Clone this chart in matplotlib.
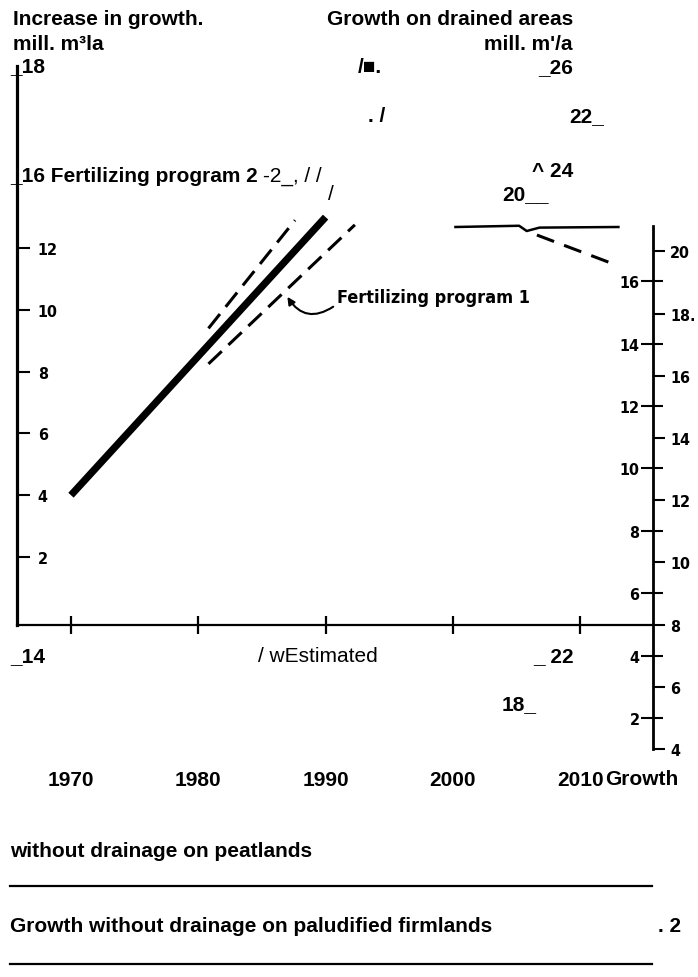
import matplotlib
matplotlib.use("Agg")
import matplotlib.pyplot as plt
from matplotlib.lines import Line2D

W, H = 698, 978

# growth series (left scale, mill. m3/a)
years_main = [1970, 1980, 1990]
growth_main = [4.0, 8.5, 13.0]
years_prog2 = [1980.8, 1987.6]
growth_prog2 = [9.4, 12.9]
years_prog1 = [1980.8, 1992.3]
growth_prog1 = [8.25, 12.75]
years_drained = [2000.2, 2005.2, 2005.8, 2006.8, 2013.0]
growth_drained = [12.68, 12.72, 12.55, 12.66, 12.68]
years_est = [2006.6, 2012.5]
growth_est = [12.42, 11.5]

year_ticks = [1970, 1980, 1990, 2000, 2010]
year_labels = ['1970', '1980', '1990', '2000', '2010']
left_ticks = [2, 4, 6, 8, 10, 12]
inner_ticks = [2, 4, 6, 8, 10, 12, 14, 16]
outer_ticks = [4, 6, 8, 10, 12, 14, 16, 18, 20]
outer_labels = ['4', '6', '8', '10', '12', '14', '16', '18.', '20']

SANS = ['Liberation Sans', 'DejaVu Sans']
SCAN = dict(family=['DejaVu Sans'], fontweight='bold', fontstretch='condensed')


def fx(px):
    return px / W


def fy(py):
    return 1 - py / H


fig = plt.figure(figsize=(W / 100, H / 100), dpi=100)

# main panel: years vs increase in growth
ax = fig.add_axes([fx(17), fy(626), fx(652) - fx(17), fy(67) - fy(626)])
ax.set_xlim(1965.76, 2015.64)
ax.set_ylim(-0.2, 17.89)
ax.patch.set_visible(False)
for side in ['top', 'right']:
    ax.spines[side].set_visible(False)
ax.spines['left'].set_linewidth(2.3)
ax.spines['bottom'].set_linewidth(1.6)

ax.plot(years_main, growth_main, color='black', lw=5.2, solid_capstyle='butt')
ax.plot(years_prog2, growth_prog2, color='black', lw=2.2, dashes=(6, 3), dash_capstyle='butt')
ax.plot(years_prog1, growth_prog1, color='black', lw=2.2, dashes=(6, 3), dash_capstyle='butt')
ax.plot(years_drained, growth_drained, color='black', lw=1.8)
ax.plot(years_est, growth_est, color='black', lw=2.2, dashes=(6, 3.5), dash_capstyle='butt')

ax.annotate('', xy=(1987.0, 10.42), xytext=(1990.6, 10.1),
            arrowprops=dict(arrowstyle='-|>', color='black', lw=1.5,
                            connectionstyle='arc3,rad=-0.5',
                            shrinkA=0, shrinkB=0, mutation_scale=11))
ax.text(1990.9, 10.42, 'Fertilizing program 1', fontsize=13, va='center', ha='left', **SCAN)

ax.set_yticks(left_ticks)
ax.set_yticklabels([str(v) for v in left_ticks], fontsize=11.5, **SCAN)
ax.tick_params(axis='y', direction='in', length=9.5, width=1.5, pad=-15)
for lbl in ax.get_yticklabels():
    lbl.set_ha('left')

ax.set_xticks(year_ticks)
ax.set_xticklabels(year_labels, family=SANS, fontweight='bold', fontsize=15)
ax.tick_params(axis='x', direction='inout', length=13, width=1.6, pad=98)

# right-hand double scale
pos = [fx(652), fy(750), fx(1), fy(227) - fy(750)]
ax_o = fig.add_axes(pos)
ax_o.set_ylim(4.0, 20.82)
ax_o.patch.set_visible(False)
ax_o.xaxis.set_visible(False)
for side in ['top', 'bottom', 'left']:
    ax_o.spines[side].set_visible(False)
ax_o.spines['right'].set_linewidth(2.0)
ax_o.yaxis.tick_right()
ax_o.set_yticks(outer_ticks)
ax_o.set_yticklabels(outer_labels, fontsize=11.5, **SCAN)
ax_o.tick_params(axis='y', direction='out', length=8.5, width=1.5, pad=4)

ax_i = fig.add_axes(pos, label='inner')
ax_i.set_ylim(1.006, 17.77)
ax_i.patch.set_visible(False)
ax_i.xaxis.set_visible(False)
for side in ['top', 'bottom', 'left', 'right']:
    ax_i.spines[side].set_visible(False)
ax_i.set_yticks(inner_ticks)
ax_i.set_yticklabels([str(v) for v in inner_ticks], fontsize=11.5, **SCAN)
ax_i.tick_params(axis='y', direction='inout', length=16, width=1.5, pad=1)


def label(px, py, s, ha='left', va='baseline', weight='bold', size=15):
    fig.text(fx(px), fy(py), s, ha=ha, va=va, fontsize=size,
             fontweight=weight, family=SANS)


# header and scattered scale labels
label(13, 25, 'Increase in growth.')
label(13, 50, 'mill. m\u00b3la')
label(10, 72, '_18')
label(10, 182, '_16 Fertilizing program 2')
label(263, 182, '-2_, / /', weight='normal')
label(328, 200, '/', weight='normal')
label(573, 25, 'Growth on drained areas', ha='right')
label(573, 50, "mill. m'/a", ha='right')
label(358, 73, '/\u25a0.')
label(573, 73, '_26', ha='right')
label(368, 122, '. /')
label(569, 122, '22_')
label(573, 177, '^ 24', ha='right')
label(502, 200, '20__')

# below the time axis
label(10, 657, '_14', va='center')
label(258, 657, '/ wEstimated', va='center', weight='normal')
label(574, 657, '_ 22', ha='right', va='center')
label(502, 705, '18_', va='center')
label(605, 780, 'Growth', va='center')
label(10, 852, 'without drainage on peatlands', va='center')
label(10, 927, 'Growth without drainage on paludified firmlands', va='center')
label(658, 927, '. 2', va='center')

for py in [887, 965]:
    fig.add_artist(Line2D([fx(10), fx(652)], [fy(py), fy(py)], color='black', lw=1.6))

fig.savefig('out.png', dpi=100)
